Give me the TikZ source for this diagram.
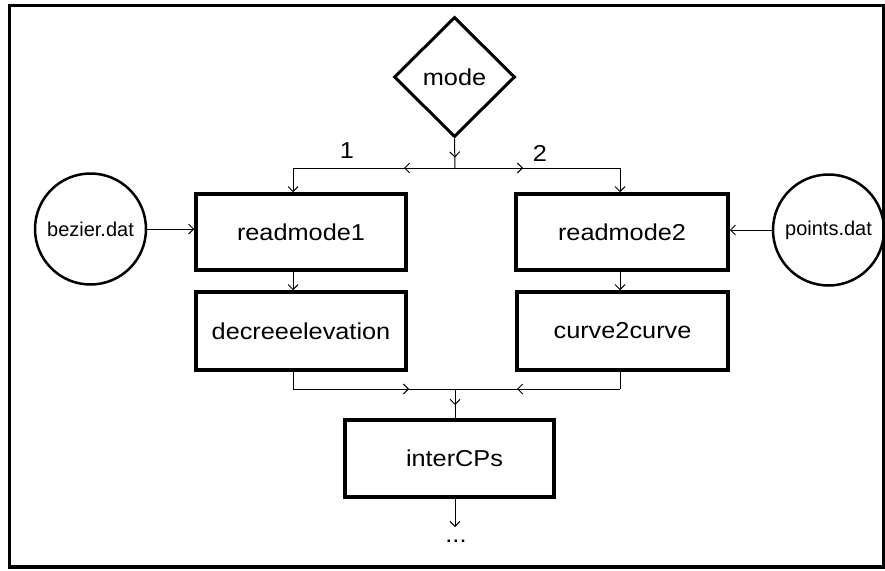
\documentclass[tikz,border=0pt]{standalone}
\usepackage{fontspec}
\setmainfont{Liberation Sans}
\newfontfamily\boxfont[FakeStretch=1.1]{Liberation Sans}
\usetikzlibrary{shapes.geometric,arrows.meta,decorations.markings}
\tikzset{
  tip/.style={-{Straight Barb[length=5pt,width=10pt]}},
  boxnode/.style={draw,line width=3.5pt,rectangle,inner sep=0pt,font=\boxfont\fontsize{23}{27}\selectfont},
  filenode/.style={draw,line width=2.5pt,circle,inner sep=0pt,minimum size=111pt,font=\fontsize{20}{24}\selectfont},
  conn/.style={line width=1pt},
  midtip/.style={postaction={decorate},decoration={markings,mark=at position #1 with {\arrow{Straight Barb[length=5pt,width=10pt]}}}},
  lbl/.style={inner sep=0pt,font=\boxfont\fontsize{23}{27}\selectfont}
}
\begin{document}
\begin{tikzpicture}[x=1pt,y=-1pt]
\useasboundingbox (0,0) rectangle (885,570);
\draw[line width=3.5pt] (9.5,5.5) rectangle (884,567);

\node[draw,diamond,line width=3pt,inner sep=0pt,minimum width=121pt,minimum height=120pt,font=\boxfont\fontsize{23}{27}\selectfont] (mode) at (454.5,77) {mode};

\node[boxnode,minimum width=210pt,minimum height=76pt] (r1) at (301,232) {readmode1\hspace{16pt}};
\node[boxnode,minimum width=210pt,minimum height=78pt] (d1) at (301,331) {decreeelevation};
\node[boxnode,minimum width=212pt,minimum height=76pt] (r2) at (622,232) {readmode2};
\node[boxnode,minimum width=211pt,minimum height=78pt] (c2) at (622.5,331) {curve2curve};
\node[boxnode,minimum width=209pt,minimum height=77pt] (ic) at (449.5,458.5) {\hspace{10pt}interCPs};

\node[filenode] (bz) at (90.5,229) {bezier.dat};
\node[filenode] (pt) at (828.5,230) {points.dat};

\coordinate (J1) at (455,168);
\coordinate (L1) at (293,168);
\coordinate (R1) at (620,168);
\coordinate (J2) at (455,389);
\coordinate (L2) at (293,389);
\coordinate (R2) at (620,389);
\coordinate (E) at (455,527);

\node[lbl] (one) at (347,151) {1};
\node[lbl] (two) at (540,153) {2};

\draw[conn,midtip=19pt] (mode.south) -- (J1);
\draw[conn,midtip=51pt] (J1) -- (L1);
\draw[conn,tip] (L1) -- (L1 |- r1.north);
\draw[conn,midtip=68pt] (J1) -- (R1);
\draw[conn,tip] (R1) -- (R1 |- r2.north);

\draw[conn,tip] (bz.east) -- (bz.east -| r1.west);
\draw[conn,tip] (pt.west) -- (pt.west -| r2.east);

\draw[conn,tip] (L1 |- r1.south) -- (L1 |- d1.north);
\draw[conn,tip] (R1 |- r2.south) -- (R1 |- c2.north);

\draw[conn] (L1 |- d1.south) -- (L2);
\draw[conn,midtip=116pt] (L2) -- (J2);
\draw[conn] (R1 |- c2.south) -- (R2);
\draw[conn,midtip=103pt] (R2) -- (J2);
\draw[conn,midtip=16pt] (J2) -- (J2 |- ic.north);

\draw[conn,tip] (J2 |- ic.south) -- (E);
\node[lbl] (dots) at (456,541) {...};
\end{tikzpicture}
\end{document}
